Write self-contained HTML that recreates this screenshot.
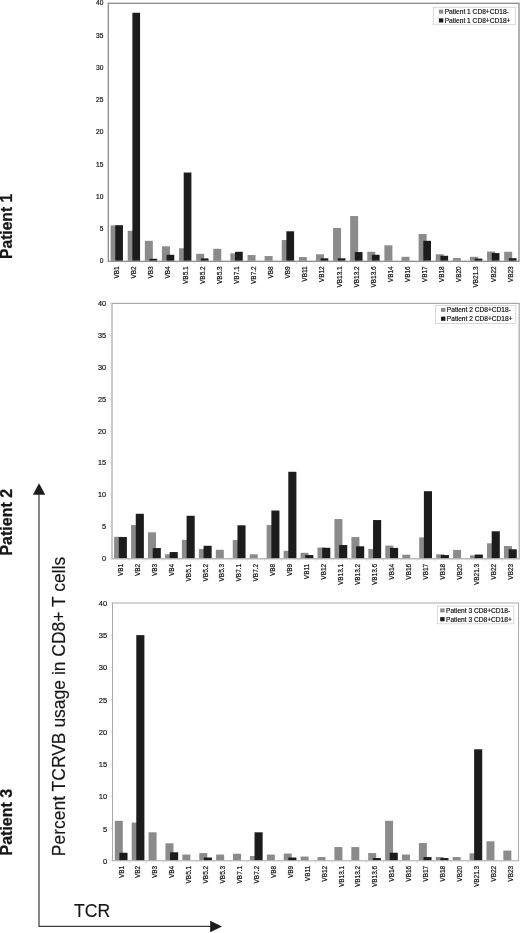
<!DOCTYPE html>
<html><head><meta charset="utf-8"><title>TCRVB usage</title>
<style>
html,body{margin:0;padding:0;background:#fff;}
body{width:520px;height:933px;overflow:hidden;}
svg{display:block;font-family:"Liberation Sans",sans-serif;}
.t{font-size:6.5px;fill:#111;stroke:#111;stroke-width:0.18px;}
.pb{font-size:16px;font-weight:bold;fill:#161616;stroke:#161616;stroke-width:0.25px;}
.big{font-size:17.5px;fill:#161616;stroke:#161616;stroke-width:0.15px;}
</style></head><body>
<svg width="520" height="933" viewBox="0 0 520 933">
<defs><filter id="soft" x="0" y="0" width="520" height="933" filterUnits="userSpaceOnUse"><feGaussianBlur stdDeviation="0.38"/></filter></defs>
<rect width="520" height="933" fill="#fff"/>
<g filter="url(#soft)">
<g>
<rect x="110.60" y="225.40" width="8.0" height="35.40" fill="#8b8b8b"/>
<rect x="115.25" y="225.20" width="7.7" height="35.60" fill="#1c1c1c"/>
<rect x="127.71" y="230.80" width="8.0" height="30.00" fill="#8b8b8b"/>
<rect x="132.36" y="12.80" width="7.7" height="248.00" fill="#1c1c1c"/>
<rect x="144.83" y="240.80" width="8.0" height="20.00" fill="#8b8b8b"/>
<rect x="149.47" y="258.80" width="7.7" height="2.00" fill="#1c1c1c"/>
<rect x="161.94" y="246.30" width="8.0" height="14.50" fill="#8b8b8b"/>
<rect x="166.59" y="254.80" width="7.7" height="6.00" fill="#1c1c1c"/>
<rect x="179.05" y="248.30" width="8.0" height="12.50" fill="#8b8b8b"/>
<rect x="183.70" y="172.55" width="7.7" height="88.25" fill="#1c1c1c"/>
<rect x="196.16" y="253.80" width="8.0" height="7.00" fill="#8b8b8b"/>
<rect x="200.81" y="258.40" width="7.7" height="2.40" fill="#1c1c1c"/>
<rect x="213.28" y="248.80" width="8.0" height="12.00" fill="#8b8b8b"/>
<rect x="230.39" y="253.30" width="8.0" height="7.50" fill="#8b8b8b"/>
<rect x="235.04" y="251.80" width="7.7" height="9.00" fill="#1c1c1c"/>
<rect x="247.50" y="255.05" width="8.0" height="5.75" fill="#8b8b8b"/>
<rect x="264.61" y="256.05" width="8.0" height="4.75" fill="#8b8b8b"/>
<rect x="281.73" y="240.05" width="8.0" height="20.75" fill="#8b8b8b"/>
<rect x="286.38" y="231.30" width="7.7" height="29.50" fill="#1c1c1c"/>
<rect x="298.84" y="257.05" width="8.0" height="3.75" fill="#8b8b8b"/>
<rect x="315.95" y="254.30" width="8.0" height="6.50" fill="#8b8b8b"/>
<rect x="320.60" y="258.30" width="7.7" height="2.50" fill="#1c1c1c"/>
<rect x="333.06" y="228.05" width="8.0" height="32.75" fill="#8b8b8b"/>
<rect x="337.71" y="258.30" width="7.7" height="2.50" fill="#1c1c1c"/>
<rect x="350.18" y="216.05" width="8.0" height="44.75" fill="#8b8b8b"/>
<rect x="354.82" y="252.05" width="7.7" height="8.75" fill="#1c1c1c"/>
<rect x="367.29" y="251.80" width="8.0" height="9.00" fill="#8b8b8b"/>
<rect x="371.94" y="254.80" width="7.7" height="6.00" fill="#1c1c1c"/>
<rect x="384.40" y="245.30" width="8.0" height="15.50" fill="#8b8b8b"/>
<rect x="401.51" y="256.80" width="8.0" height="4.00" fill="#8b8b8b"/>
<rect x="418.63" y="234.05" width="8.0" height="26.75" fill="#8b8b8b"/>
<rect x="423.28" y="240.80" width="7.7" height="20.00" fill="#1c1c1c"/>
<rect x="435.74" y="254.30" width="8.0" height="6.50" fill="#8b8b8b"/>
<rect x="440.39" y="255.80" width="7.7" height="5.00" fill="#1c1c1c"/>
<rect x="452.85" y="258.05" width="8.0" height="2.75" fill="#8b8b8b"/>
<rect x="469.96" y="256.80" width="8.0" height="4.00" fill="#8b8b8b"/>
<rect x="474.61" y="258.60" width="7.7" height="2.20" fill="#1c1c1c"/>
<rect x="487.08" y="251.55" width="8.0" height="9.25" fill="#8b8b8b"/>
<rect x="491.73" y="253.05" width="7.7" height="7.75" fill="#1c1c1c"/>
<rect x="504.19" y="251.80" width="8.0" height="9.00" fill="#8b8b8b"/>
<rect x="508.84" y="258.20" width="7.7" height="2.60" fill="#1c1c1c"/>
<rect x="108.30" y="3.30" width="410.70" height="258.00" fill="none" stroke="#8a8a8a" stroke-width="1.3"/>
<path d="M125.41 261.30v2.2M142.53 261.30v2.2M159.64 261.30v2.2M176.75 261.30v2.2M193.86 261.30v2.2M210.98 261.30v2.2M228.09 261.30v2.2M245.20 261.30v2.2M262.31 261.30v2.2M279.43 261.30v2.2M296.54 261.30v2.2M313.65 261.30v2.2M330.76 261.30v2.2M347.88 261.30v2.2M364.99 261.30v2.2M382.10 261.30v2.2M399.21 261.30v2.2M416.33 261.30v2.2M433.44 261.30v2.2M450.55 261.30v2.2M467.66 261.30v2.2M484.78 261.30v2.2M501.89 261.30v2.2M108.30 261.30h-2M108.30 229.05h-2M108.30 196.80h-2M108.30 164.55h-2M108.30 132.30h-2M108.30 100.05h-2M108.30 67.80h-2M108.30 35.55h-2M108.30 3.30h-2" stroke="#c8c8c8" stroke-width="0.7" fill="none"/>
<text class="t" x="103.4" y="263.48" text-anchor="end" style="font-size:6.6px">0</text>
<text class="t" x="103.4" y="231.23" text-anchor="end" style="font-size:6.6px">5</text>
<text class="t" x="103.4" y="198.98" text-anchor="end" style="font-size:6.6px">10</text>
<text class="t" x="103.4" y="166.73" text-anchor="end" style="font-size:6.6px">15</text>
<text class="t" x="103.4" y="134.48" text-anchor="end" style="font-size:6.6px">20</text>
<text class="t" x="103.4" y="102.23" text-anchor="end" style="font-size:6.6px">25</text>
<text class="t" x="103.4" y="69.98" text-anchor="end" style="font-size:6.6px">30</text>
<text class="t" x="103.4" y="37.73" text-anchor="end" style="font-size:6.6px">35</text>
<text class="t" x="103.4" y="5.48" text-anchor="end" style="font-size:6.6px">40</text>
<text class="t" transform="translate(119.06 266.30) rotate(-90) scale(1 1.14)" text-anchor="end">VB1</text>
<text class="t" transform="translate(136.17 266.30) rotate(-90) scale(1 1.14)" text-anchor="end">VB2</text>
<text class="t" transform="translate(153.28 266.30) rotate(-90) scale(1 1.14)" text-anchor="end">VB3</text>
<text class="t" transform="translate(170.39 266.30) rotate(-90) scale(1 1.14)" text-anchor="end">VB4</text>
<text class="t" transform="translate(187.51 266.30) rotate(-90) scale(1 1.14)" text-anchor="end">VB5.1</text>
<text class="t" transform="translate(204.62 266.30) rotate(-90) scale(1 1.14)" text-anchor="end">VB5.2</text>
<text class="t" transform="translate(221.73 266.30) rotate(-90) scale(1 1.14)" text-anchor="end">VB5.3</text>
<text class="t" transform="translate(238.84 266.30) rotate(-90) scale(1 1.14)" text-anchor="end">VB7.1</text>
<text class="t" transform="translate(255.96 266.30) rotate(-90) scale(1 1.14)" text-anchor="end">VB7.2</text>
<text class="t" transform="translate(273.07 266.30) rotate(-90) scale(1 1.14)" text-anchor="end">VB8</text>
<text class="t" transform="translate(290.18 266.30) rotate(-90) scale(1 1.14)" text-anchor="end">VB9</text>
<text class="t" transform="translate(307.29 266.30) rotate(-90) scale(1 1.14)" text-anchor="end">VB11</text>
<text class="t" transform="translate(324.41 266.30) rotate(-90) scale(1 1.14)" text-anchor="end">VB12</text>
<text class="t" transform="translate(341.52 266.30) rotate(-90) scale(1 1.14)" text-anchor="end">VB13.1</text>
<text class="t" transform="translate(358.63 266.30) rotate(-90) scale(1 1.14)" text-anchor="end">VB13.2</text>
<text class="t" transform="translate(375.74 266.30) rotate(-90) scale(1 1.14)" text-anchor="end">VB13.6</text>
<text class="t" transform="translate(392.86 266.30) rotate(-90) scale(1 1.14)" text-anchor="end">VB14</text>
<text class="t" transform="translate(409.97 266.30) rotate(-90) scale(1 1.14)" text-anchor="end">VB16</text>
<text class="t" transform="translate(427.08 266.30) rotate(-90) scale(1 1.14)" text-anchor="end">VB17</text>
<text class="t" transform="translate(444.19 266.30) rotate(-90) scale(1 1.14)" text-anchor="end">VB18</text>
<text class="t" transform="translate(461.31 266.30) rotate(-90) scale(1 1.14)" text-anchor="end">VB20</text>
<text class="t" transform="translate(478.42 266.30) rotate(-90) scale(1 1.14)" text-anchor="end">VB21.3</text>
<text class="t" transform="translate(495.53 266.30) rotate(-90) scale(1 1.14)" text-anchor="end">VB22</text>
<text class="t" transform="translate(512.64 266.30) rotate(-90) scale(1 1.14)" text-anchor="end">VB23</text>
<rect x="433.3" y="7.3" width="82.3" height="17.4" fill="#fff" stroke="#d0d0d0" stroke-width="0.8"/>
<rect x="438.90" y="9.60" width="4.4" height="4" fill="#8b8b8b"/>
<rect x="438.90" y="18.30" width="4.4" height="4.2" fill="#1c1c1c"/>
<text class="t" x="444.70" y="14.00" style="font-size:6.62px">Patient 1 CD8+CD18-</text>
<text class="t" x="444.70" y="22.70" style="font-size:6.62px">Patient 1 CD8+CD18+</text>
</g>
<g>
<rect x="114.10" y="536.80" width="8.0" height="21.50" fill="#8b8b8b"/>
<rect x="118.80" y="537.05" width="8.1" height="21.25" fill="#1c1c1c"/>
<rect x="131.05" y="525.05" width="8.0" height="33.25" fill="#8b8b8b"/>
<rect x="135.75" y="513.80" width="8.1" height="44.50" fill="#1c1c1c"/>
<rect x="148.00" y="532.30" width="8.0" height="26.00" fill="#8b8b8b"/>
<rect x="152.70" y="548.05" width="8.1" height="10.25" fill="#1c1c1c"/>
<rect x="164.95" y="554.30" width="8.0" height="4.00" fill="#8b8b8b"/>
<rect x="169.65" y="552.05" width="8.1" height="6.25" fill="#1c1c1c"/>
<rect x="181.90" y="539.80" width="8.0" height="18.50" fill="#8b8b8b"/>
<rect x="186.60" y="515.80" width="8.1" height="42.50" fill="#1c1c1c"/>
<rect x="198.85" y="549.05" width="8.0" height="9.25" fill="#8b8b8b"/>
<rect x="203.55" y="545.80" width="8.1" height="12.50" fill="#1c1c1c"/>
<rect x="215.80" y="549.80" width="8.0" height="8.50" fill="#8b8b8b"/>
<rect x="232.75" y="540.05" width="8.0" height="18.25" fill="#8b8b8b"/>
<rect x="237.45" y="525.30" width="8.1" height="33.00" fill="#1c1c1c"/>
<rect x="249.70" y="554.30" width="8.0" height="4.00" fill="#8b8b8b"/>
<rect x="266.65" y="525.05" width="8.0" height="33.25" fill="#8b8b8b"/>
<rect x="271.35" y="510.55" width="8.1" height="47.75" fill="#1c1c1c"/>
<rect x="283.60" y="550.80" width="8.0" height="7.50" fill="#8b8b8b"/>
<rect x="288.30" y="471.80" width="8.1" height="86.50" fill="#1c1c1c"/>
<rect x="300.55" y="552.80" width="8.0" height="5.50" fill="#8b8b8b"/>
<rect x="305.25" y="555.05" width="8.1" height="3.25" fill="#1c1c1c"/>
<rect x="317.50" y="547.55" width="8.0" height="10.75" fill="#8b8b8b"/>
<rect x="322.20" y="547.80" width="8.1" height="10.50" fill="#1c1c1c"/>
<rect x="334.45" y="519.05" width="8.0" height="39.25" fill="#8b8b8b"/>
<rect x="339.15" y="545.05" width="8.1" height="13.25" fill="#1c1c1c"/>
<rect x="351.40" y="537.05" width="8.0" height="21.25" fill="#8b8b8b"/>
<rect x="356.10" y="546.30" width="8.1" height="12.00" fill="#1c1c1c"/>
<rect x="368.35" y="549.05" width="8.0" height="9.25" fill="#8b8b8b"/>
<rect x="373.05" y="520.05" width="8.1" height="38.25" fill="#1c1c1c"/>
<rect x="385.30" y="545.55" width="8.0" height="12.75" fill="#8b8b8b"/>
<rect x="390.00" y="547.90" width="8.1" height="10.40" fill="#1c1c1c"/>
<rect x="402.25" y="554.70" width="8.0" height="3.60" fill="#8b8b8b"/>
<rect x="419.20" y="537.40" width="8.0" height="20.90" fill="#8b8b8b"/>
<rect x="423.90" y="491.20" width="8.1" height="67.10" fill="#1c1c1c"/>
<rect x="436.15" y="554.30" width="8.0" height="4.00" fill="#8b8b8b"/>
<rect x="440.85" y="555.05" width="8.1" height="3.25" fill="#1c1c1c"/>
<rect x="453.10" y="549.90" width="8.0" height="8.40" fill="#8b8b8b"/>
<rect x="470.05" y="555.30" width="8.0" height="3.00" fill="#8b8b8b"/>
<rect x="474.75" y="554.55" width="8.1" height="3.75" fill="#1c1c1c"/>
<rect x="487.00" y="543.30" width="8.0" height="15.00" fill="#8b8b8b"/>
<rect x="491.70" y="531.30" width="8.1" height="27.00" fill="#1c1c1c"/>
<rect x="503.95" y="546.05" width="8.0" height="12.25" fill="#8b8b8b"/>
<rect x="508.65" y="549.30" width="8.1" height="9.00" fill="#1c1c1c"/>
<rect x="112.00" y="303.40" width="407.20" height="255.40" fill="none" stroke="#a8a8a8" stroke-width="1.2"/>
<path d="M128.97 558.80v2.2M145.93 558.80v2.2M162.90 558.80v2.2M179.87 558.80v2.2M196.83 558.80v2.2M213.80 558.80v2.2M230.77 558.80v2.2M247.73 558.80v2.2M264.70 558.80v2.2M281.67 558.80v2.2M298.63 558.80v2.2M315.60 558.80v2.2M332.57 558.80v2.2M349.53 558.80v2.2M366.50 558.80v2.2M383.47 558.80v2.2M400.43 558.80v2.2M417.40 558.80v2.2M434.37 558.80v2.2M451.33 558.80v2.2M468.30 558.80v2.2M485.27 558.80v2.2M502.23 558.80v2.2M112.00 558.80h-2M112.00 526.88h-2M112.00 494.95h-2M112.00 463.02h-2M112.00 431.10h-2M112.00 399.17h-2M112.00 367.25h-2M112.00 335.32h-2M112.00 303.40h-2" stroke="#c8c8c8" stroke-width="0.7" fill="none"/>
<text class="t" x="106.0" y="561.26" text-anchor="end" style="font-size:7.25px">0</text>
<text class="t" x="106.0" y="529.34" text-anchor="end" style="font-size:7.25px">5</text>
<text class="t" x="106.0" y="497.41" text-anchor="end" style="font-size:7.25px">10</text>
<text class="t" x="106.0" y="465.49" text-anchor="end" style="font-size:7.25px">15</text>
<text class="t" x="106.0" y="433.56" text-anchor="end" style="font-size:7.25px">20</text>
<text class="t" x="106.0" y="401.64" text-anchor="end" style="font-size:7.25px">25</text>
<text class="t" x="106.0" y="369.71" text-anchor="end" style="font-size:7.25px">30</text>
<text class="t" x="106.0" y="337.79" text-anchor="end" style="font-size:7.25px">35</text>
<text class="t" x="106.0" y="305.86" text-anchor="end" style="font-size:7.25px">40</text>
<text class="t" transform="translate(122.68 563.80) rotate(-90) scale(1 1.14)" text-anchor="end">VB1</text>
<text class="t" transform="translate(139.65 563.80) rotate(-90) scale(1 1.14)" text-anchor="end">VB2</text>
<text class="t" transform="translate(156.62 563.80) rotate(-90) scale(1 1.14)" text-anchor="end">VB3</text>
<text class="t" transform="translate(173.58 563.80) rotate(-90) scale(1 1.14)" text-anchor="end">VB4</text>
<text class="t" transform="translate(190.55 563.80) rotate(-90) scale(1 1.14)" text-anchor="end">VB5.1</text>
<text class="t" transform="translate(207.52 563.80) rotate(-90) scale(1 1.14)" text-anchor="end">VB5.2</text>
<text class="t" transform="translate(224.48 563.80) rotate(-90) scale(1 1.14)" text-anchor="end">VB5.3</text>
<text class="t" transform="translate(241.45 563.80) rotate(-90) scale(1 1.14)" text-anchor="end">VB7.1</text>
<text class="t" transform="translate(258.42 563.80) rotate(-90) scale(1 1.14)" text-anchor="end">VB7.2</text>
<text class="t" transform="translate(275.38 563.80) rotate(-90) scale(1 1.14)" text-anchor="end">VB8</text>
<text class="t" transform="translate(292.35 563.80) rotate(-90) scale(1 1.14)" text-anchor="end">VB9</text>
<text class="t" transform="translate(309.32 563.80) rotate(-90) scale(1 1.14)" text-anchor="end">VB11</text>
<text class="t" transform="translate(326.28 563.80) rotate(-90) scale(1 1.14)" text-anchor="end">VB12</text>
<text class="t" transform="translate(343.25 563.80) rotate(-90) scale(1 1.14)" text-anchor="end">VB13.1</text>
<text class="t" transform="translate(360.22 563.80) rotate(-90) scale(1 1.14)" text-anchor="end">VB13.2</text>
<text class="t" transform="translate(377.18 563.80) rotate(-90) scale(1 1.14)" text-anchor="end">VB13.6</text>
<text class="t" transform="translate(394.15 563.80) rotate(-90) scale(1 1.14)" text-anchor="end">VB14</text>
<text class="t" transform="translate(411.12 563.80) rotate(-90) scale(1 1.14)" text-anchor="end">VB16</text>
<text class="t" transform="translate(428.08 563.80) rotate(-90) scale(1 1.14)" text-anchor="end">VB17</text>
<text class="t" transform="translate(445.05 563.80) rotate(-90) scale(1 1.14)" text-anchor="end">VB18</text>
<text class="t" transform="translate(462.02 563.80) rotate(-90) scale(1 1.14)" text-anchor="end">VB20</text>
<text class="t" transform="translate(478.98 563.80) rotate(-90) scale(1 1.14)" text-anchor="end">VB21.3</text>
<text class="t" transform="translate(495.95 563.80) rotate(-90) scale(1 1.14)" text-anchor="end">VB22</text>
<text class="t" transform="translate(512.92 563.80) rotate(-90) scale(1 1.14)" text-anchor="end">VB23</text>
<rect x="435.4" y="305.6" width="80.4" height="17.9" fill="#fff" stroke="#d0d0d0" stroke-width="0.8"/>
<rect x="441.00" y="307.90" width="4.4" height="4" fill="#8b8b8b"/>
<rect x="441.00" y="316.60" width="4.4" height="4.2" fill="#1c1c1c"/>
<text class="t" x="446.80" y="312.30" style="font-size:6.62px">Patient 2 CD8+CD18-</text>
<text class="t" x="446.80" y="321.00" style="font-size:6.62px">Patient 2 CD8+CD18+</text>
</g>
<g>
<rect x="114.80" y="820.80" width="8.0" height="39.50" fill="#8b8b8b"/>
<rect x="119.40" y="852.80" width="8.1" height="7.50" fill="#1c1c1c"/>
<rect x="131.69" y="822.55" width="8.0" height="37.75" fill="#8b8b8b"/>
<rect x="136.29" y="635.10" width="8.1" height="225.20" fill="#1c1c1c"/>
<rect x="148.59" y="832.30" width="8.0" height="28.00" fill="#8b8b8b"/>
<rect x="165.48" y="843.30" width="8.0" height="17.00" fill="#8b8b8b"/>
<rect x="170.08" y="852.30" width="8.1" height="8.00" fill="#1c1c1c"/>
<rect x="182.37" y="854.55" width="8.0" height="5.75" fill="#8b8b8b"/>
<rect x="199.27" y="853.05" width="8.0" height="7.25" fill="#8b8b8b"/>
<rect x="203.87" y="857.55" width="8.1" height="2.75" fill="#1c1c1c"/>
<rect x="216.16" y="854.55" width="8.0" height="5.75" fill="#8b8b8b"/>
<rect x="233.05" y="853.70" width="8.0" height="6.60" fill="#8b8b8b"/>
<rect x="249.94" y="856.05" width="8.0" height="4.25" fill="#8b8b8b"/>
<rect x="254.54" y="832.30" width="8.1" height="28.00" fill="#1c1c1c"/>
<rect x="266.84" y="854.55" width="8.0" height="5.75" fill="#8b8b8b"/>
<rect x="283.73" y="853.55" width="8.0" height="6.75" fill="#8b8b8b"/>
<rect x="288.33" y="857.55" width="8.1" height="2.75" fill="#1c1c1c"/>
<rect x="300.62" y="856.55" width="8.0" height="3.75" fill="#8b8b8b"/>
<rect x="317.52" y="857.05" width="8.0" height="3.25" fill="#8b8b8b"/>
<rect x="334.41" y="847.05" width="8.0" height="13.25" fill="#8b8b8b"/>
<rect x="351.30" y="847.05" width="8.0" height="13.25" fill="#8b8b8b"/>
<rect x="368.19" y="853.05" width="8.0" height="7.25" fill="#8b8b8b"/>
<rect x="372.79" y="858.05" width="8.1" height="2.25" fill="#1c1c1c"/>
<rect x="385.09" y="820.80" width="8.0" height="39.50" fill="#8b8b8b"/>
<rect x="389.69" y="852.70" width="8.1" height="7.60" fill="#1c1c1c"/>
<rect x="401.98" y="854.55" width="8.0" height="5.75" fill="#8b8b8b"/>
<rect x="418.87" y="843.05" width="8.0" height="17.25" fill="#8b8b8b"/>
<rect x="423.47" y="857.05" width="8.1" height="3.25" fill="#1c1c1c"/>
<rect x="435.77" y="857.05" width="8.0" height="3.25" fill="#8b8b8b"/>
<rect x="440.37" y="858.05" width="8.1" height="2.25" fill="#1c1c1c"/>
<rect x="452.66" y="857.05" width="8.0" height="3.25" fill="#8b8b8b"/>
<rect x="469.55" y="853.30" width="8.0" height="7.00" fill="#8b8b8b"/>
<rect x="474.15" y="749.30" width="8.1" height="111.00" fill="#1c1c1c"/>
<rect x="486.45" y="841.30" width="8.0" height="19.00" fill="#8b8b8b"/>
<rect x="503.34" y="850.55" width="8.0" height="9.75" fill="#8b8b8b"/>
<rect x="112.50" y="603.00" width="406.10" height="257.80" fill="none" stroke="#a0a0a0" stroke-width="0.9"/>
<path d="M129.42 860.80v2.2M146.34 860.80v2.2M163.26 860.80v2.2M180.18 860.80v2.2M197.10 860.80v2.2M214.03 860.80v2.2M230.95 860.80v2.2M247.87 860.80v2.2M264.79 860.80v2.2M281.71 860.80v2.2M298.63 860.80v2.2M315.55 860.80v2.2M332.47 860.80v2.2M349.39 860.80v2.2M366.31 860.80v2.2M383.23 860.80v2.2M400.15 860.80v2.2M417.08 860.80v2.2M434.00 860.80v2.2M450.92 860.80v2.2M467.84 860.80v2.2M484.76 860.80v2.2M501.68 860.80v2.2M112.50 860.80h-2M112.50 828.57h-2M112.50 796.35h-2M112.50 764.12h-2M112.50 731.90h-2M112.50 699.67h-2M112.50 667.45h-2M112.50 635.23h-2M112.50 603.00h-2" stroke="#c8c8c8" stroke-width="0.7" fill="none"/>
<text class="t" x="107.1" y="863.80" text-anchor="end" style="font-size:7.5px">0</text>
<text class="t" x="107.1" y="831.57" text-anchor="end" style="font-size:7.5px">5</text>
<text class="t" x="107.1" y="799.35" text-anchor="end" style="font-size:7.5px">10</text>
<text class="t" x="107.1" y="767.12" text-anchor="end" style="font-size:7.5px">15</text>
<text class="t" x="107.1" y="734.90" text-anchor="end" style="font-size:7.5px">20</text>
<text class="t" x="107.1" y="702.67" text-anchor="end" style="font-size:7.5px">25</text>
<text class="t" x="107.1" y="670.45" text-anchor="end" style="font-size:7.5px">30</text>
<text class="t" x="107.1" y="638.23" text-anchor="end" style="font-size:7.5px">35</text>
<text class="t" x="107.1" y="606.00" text-anchor="end" style="font-size:7.5px">40</text>
<text class="t" transform="translate(123.56 865.80) rotate(-90) scale(1 1.14)" text-anchor="end">VB1</text>
<text class="t" transform="translate(140.48 865.80) rotate(-90) scale(1 1.14)" text-anchor="end">VB2</text>
<text class="t" transform="translate(157.40 865.80) rotate(-90) scale(1 1.14)" text-anchor="end">VB3</text>
<text class="t" transform="translate(174.32 865.80) rotate(-90) scale(1 1.14)" text-anchor="end">VB4</text>
<text class="t" transform="translate(191.24 865.80) rotate(-90) scale(1 1.14)" text-anchor="end">VB5.1</text>
<text class="t" transform="translate(208.16 865.80) rotate(-90) scale(1 1.14)" text-anchor="end">VB5.2</text>
<text class="t" transform="translate(225.09 865.80) rotate(-90) scale(1 1.14)" text-anchor="end">VB5.3</text>
<text class="t" transform="translate(242.01 865.80) rotate(-90) scale(1 1.14)" text-anchor="end">VB7.1</text>
<text class="t" transform="translate(258.93 865.80) rotate(-90) scale(1 1.14)" text-anchor="end">VB7.2</text>
<text class="t" transform="translate(275.85 865.80) rotate(-90) scale(1 1.14)" text-anchor="end">VB8</text>
<text class="t" transform="translate(292.77 865.80) rotate(-90) scale(1 1.14)" text-anchor="end">VB9</text>
<text class="t" transform="translate(309.69 865.80) rotate(-90) scale(1 1.14)" text-anchor="end">VB11</text>
<text class="t" transform="translate(326.61 865.80) rotate(-90) scale(1 1.14)" text-anchor="end">VB12</text>
<text class="t" transform="translate(343.53 865.80) rotate(-90) scale(1 1.14)" text-anchor="end">VB13.1</text>
<text class="t" transform="translate(360.45 865.80) rotate(-90) scale(1 1.14)" text-anchor="end">VB13.2</text>
<text class="t" transform="translate(377.37 865.80) rotate(-90) scale(1 1.14)" text-anchor="end">VB13.6</text>
<text class="t" transform="translate(394.29 865.80) rotate(-90) scale(1 1.14)" text-anchor="end">VB14</text>
<text class="t" transform="translate(411.21 865.80) rotate(-90) scale(1 1.14)" text-anchor="end">VB16</text>
<text class="t" transform="translate(428.14 865.80) rotate(-90) scale(1 1.14)" text-anchor="end">VB17</text>
<text class="t" transform="translate(445.06 865.80) rotate(-90) scale(1 1.14)" text-anchor="end">VB18</text>
<text class="t" transform="translate(461.98 865.80) rotate(-90) scale(1 1.14)" text-anchor="end">VB20</text>
<text class="t" transform="translate(478.90 865.80) rotate(-90) scale(1 1.14)" text-anchor="end">VB21.3</text>
<text class="t" transform="translate(495.82 865.80) rotate(-90) scale(1 1.14)" text-anchor="end">VB22</text>
<text class="t" transform="translate(512.74 865.80) rotate(-90) scale(1 1.14)" text-anchor="end">VB23</text>
<rect x="437.3" y="606.1" width="76.5" height="17.7" fill="#fff" stroke="#d0d0d0" stroke-width="0.8"/>
<rect x="440.20" y="608.40" width="4.4" height="4" fill="#8b8b8b"/>
<rect x="440.20" y="617.10" width="4.4" height="4.2" fill="#1c1c1c"/>
<text class="t" x="446.00" y="612.80" style="font-size:6.62px">Patient 3 CD8+CD18-</text>
<text class="t" x="446.00" y="621.50" style="font-size:6.62px">Patient 3 CD8+CD18+</text>
</g>
<text class="pb" transform="translate(11.6 258.9) rotate(-90)" style="font-size:15.6px">Patient 1</text>
<text class="pb" transform="translate(11.6 555.6) rotate(-90)">Patient 2</text>
<text class="pb" transform="translate(11.6 855.5) rotate(-90)">Patient 3</text>
<text class="big" transform="translate(65.4 856.2) rotate(-90) scale(1 1.06)">Percent TCRVB usage in CD8+ T cells</text>
<text class="big" x="74" y="917.4" style="font-size:17.6px">TCR</text>
<path d="M39 494V926.4H211" fill="none" stroke="#3a3a3a" stroke-width="1.2"/>
<path d="M39 483.3L45.3 494.8H32.9Z" fill="#1c1c1c"/>
<path d="M222 926.5L210.2 920.7V932.3Z" fill="#1c1c1c"/>
</g></svg></body></html>
